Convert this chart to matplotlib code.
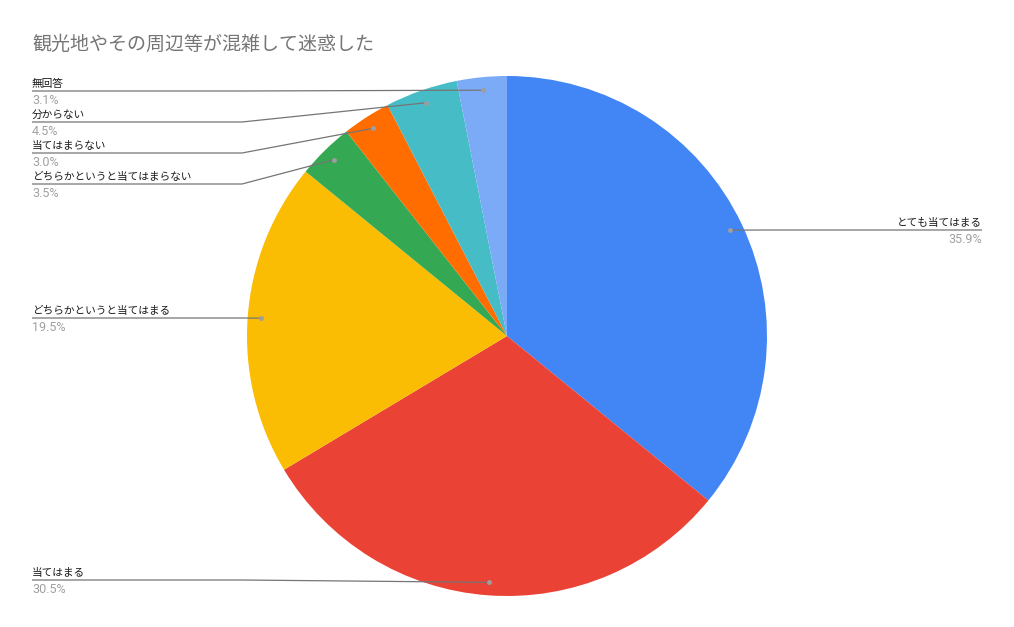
import numpy as np
import matplotlib
matplotlib.use('Agg')
import matplotlib.pyplot as plt

title = '観光地やその周辺等が混雑して迷惑した'
labels = ['とても当てはまる', '当てはまる', 'どちらかというと当てはまる',
          'どちらかというと当てはまらない', '当てはまらない', '分からない', '無回答']
values = [35.9, 30.5, 19.5, 3.5, 3.0, 4.5, 3.1]
colors = ['#4285F4', '#EA4335', '#FBBC04', '#34A853', '#FF6D01', '#46BDC6', '#7BAAF7']

# label line heights (pixels from top) and side
label_y = [230, 580, 318, 184, 153, 122, 91]
label_side = ['right', 'left', 'left', 'left', 'left', 'left', 'left']

W, H = 1014, 627
cx, cy, r = 507, H - 336, 260

fig = plt.figure(figsize=(W / 100, H / 100), dpi=100)
ax = fig.add_axes([0, 0, 1, 1])
wedges, _ = ax.pie(values, colors=colors, startangle=90, counterclock=False,
                   center=(cx, cy), radius=r, wedgeprops=dict(linewidth=0))
ax.set_xlim(0, W)
ax.set_ylim(0, H)
ax.set_aspect('equal')
ax.axis('off')

fig.text(32 / W, 1 - 44 / H, title, fontsize=13.7, color='#757575',
         family='Noto Sans CJK JP', va='center', ha='left')

for w, lab, v, ly, side in zip(wedges, labels, values, label_y, label_side):
    mid = np.deg2rad((w.theta1 + w.theta2) / 2)
    dx = cx + 0.95 * r * np.cos(mid)
    dy = cy + 0.95 * r * np.sin(mid)
    y = H - ly
    if side == 'left':
        tx, ex, ha = 32, 242, 'left'
    else:
        tx, ex, ha = 982, 770, 'right'
    ax.plot([tx, ex, dx], [y, y, dy], color='#757575', lw=0.9, solid_capstyle='butt')
    ax.plot(dx, dy, 'o', color='#9e9e9e', ms=3.5, mec='none')
    ax.text(tx, y + 2, lab, fontsize=7.7, color='#1a1a1a', family='Noto Sans CJK JP',
            ha=ha, va='bottom')
    ax.text(tx, y - 3, f'{v:.1f}%', fontsize=9, color='#a0a0a0',
            family=['Roboto', 'Noto Sans CJK JP'], ha=ha, va='top')

fig.savefig('out.png', dpi=100, facecolor='white')
